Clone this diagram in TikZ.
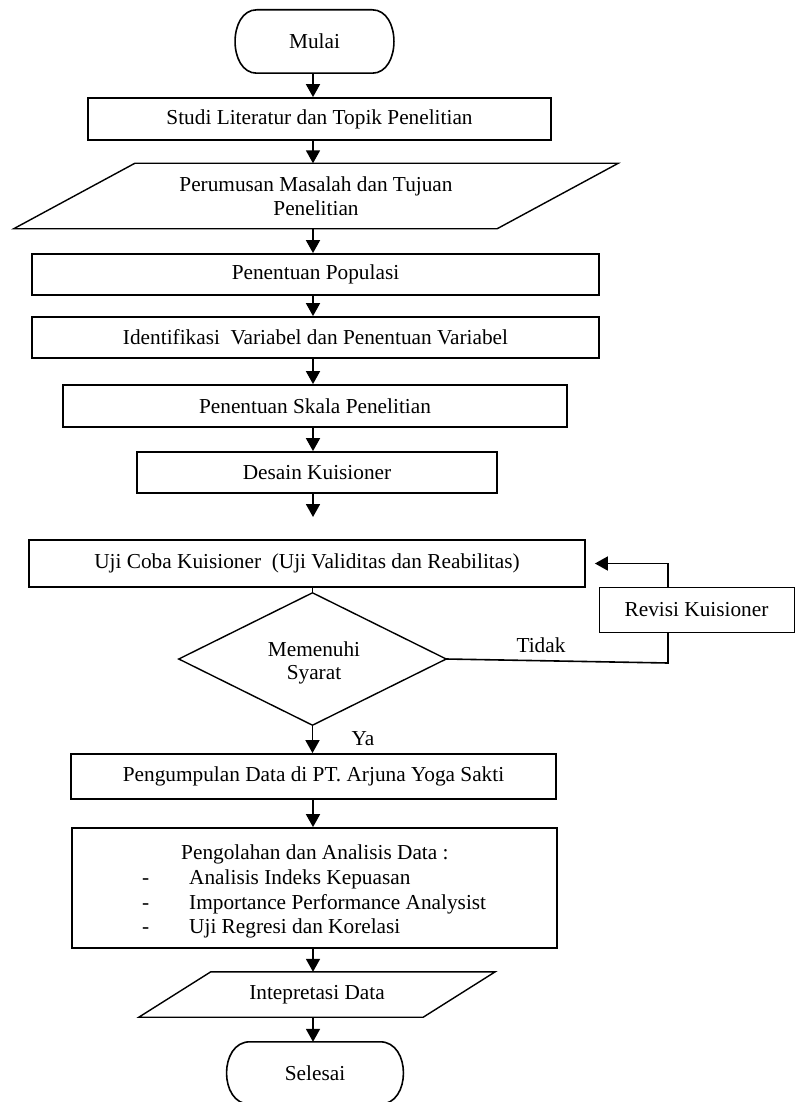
\documentclass[tikz,border=0pt]{standalone}
\usepackage{fontspec}
\setmainfont{Liberation Serif}
\usetikzlibrary{arrows.meta,calc}
\begin{document}
\begin{tikzpicture}[x=1pt,y=-1pt,
  every node/.style={font=\fontsize{21.3}{23.5}\selectfont, inner sep=0pt},
  box/.style={draw, line width=1.8pt, rectangle},
  ghost/.style={rectangle, draw=none, align=center},
  shapeline/.style={line width=1.4pt},
  termline/.style={line width=1.6pt},
  arr/.style={line width=1.8pt, -{Triangle[width=14pt,length=13pt]}},
  plain/.style={line width=1.6pt}
]
\useasboundingbox (0,0) rectangle (795,1102);
\coordinate (ax) at (313,0);

% nodes
\node[ghost, minimum width=159pt, minimum height=63pt] (mulai) at (314.5,41.5) {\raisebox{-3pt}{Mulai}};
\draw[termline] ($(mulai.north west)+(22,0)$) -- ($(mulai.north east)+(-22,0)$)
  .. controls ($(mulai.north east)+(7,0)$) and ($(mulai.south east)+(7,0)$) .. ($(mulai.south east)+(-22,0)$)
  -- ($(mulai.south west)+(22,0)$)
  .. controls ($(mulai.south west)+(-7,0)$) and ($(mulai.north west)+(-7,0)$) .. cycle;
\node[box, minimum width=463pt, minimum height=42pt] (studi) at (319.5,119) {Studi Literatur dan Topik Penelitian};
\node[ghost, minimum width=483pt, minimum height=65pt] (rum) at (316,196) {Perumusan Masalah dan Tujuan\\Penelitian};
\draw[shapeline] ($(rum.north west)+(60.5,0)$) -- ($(rum.north east)+(60.5,0)$) -- ($(rum.south east)+(-60.5,0)$) -- ($(rum.south west)+(-60.5,0)$) -- cycle;
\node[box, minimum width=567pt, minimum height=41pt] (pop) at (315.5,274.5) {\raisebox{-2pt}{Penentuan Populasi}};
\node[box, minimum width=567pt, minimum height=41pt] (idn) at (315.5,337.5) {Identifikasi\ \ Variabel dan Penentuan Variabel};
\node[box, minimum width=504pt, minimum height=42pt] (skl) at (315,406) {Penentuan Skala Penelitian};
\node[box, minimum width=360pt, minimum height=41pt] (des) at (317,472.5) {Desain Kuisioner};
\node[box, minimum width=556pt, minimum height=47pt] (uji) at (307,563.5) {Uji Coba Kuisioner\ \ (Uji Validitas dan Reabilitas)};
\node[ghost, minimum width=267pt, minimum height=132pt] (dia) at (312.5,659) {};
\draw[shapeline] (dia.north) -- (dia.east) -- (dia.south) -- (dia.west) -- cycle;
\node[align=center] (diatext) at (314,663) {Memenuhi\\Syarat};
\node[draw, line width=0.8pt, minimum width=195pt, minimum height=45pt] (rev) at (696.5,609.5) {Revisi Kuisioner};
\node[box, minimum width=485pt, minimum height=45pt] (kum) at (313.5,776.5) {Pengumpulan Data di PT. Arjuna Yoga Sakti};
\node[box, minimum width=485pt, minimum height=120pt] (olah) at (314.5,888) {};
\node[anchor=base west] (o0) at (181,859) {Pengolahan dan Analisis Data :};
\node[anchor=base west] (d1) at (142,884) {-};
\node[anchor=base west] (o1) at (189,884) {Analisis Indeks Kepuasan};
\node[anchor=base west] (d2) at (142,909) {-};
\node[anchor=base west] (o2) at (189,909) {Importance Performance Analysist};
\node[anchor=base west] (d3) at (142,933) {-};
\node[anchor=base west] (o3) at (189,933) {Uji Regresi dan Korelasi};
\node[ghost, minimum width=284pt, minimum height=45pt] (intp) at (317,994.5) {Intepretasi Data};
\draw[shapeline] ($(intp.north west)+(36,0)$) -- ($(intp.north east)+(36,0)$) -- ($(intp.south east)+(-36,0)$) -- ($(intp.south west)+(-36,0)$) -- cycle;
\node[ghost, minimum width=178pt, minimum height=62pt] (sel) at (315,1073) {Selesai};
\draw[termline] ($(sel.north west)+(24,0)$) -- ($(sel.north east)+(-24,0)$)
  .. controls ($(sel.north east)+(7,0)$) and ($(sel.south east)+(7,0)$) .. ($(sel.south east)+(-24,0)$)
  -- ($(sel.south west)+(24,0)$)
  .. controls ($(sel.south west)+(-7,0)$) and ($(sel.north west)+(-7,0)$) .. cycle;

% connectors
\draw[arr] (mulai.south -| ax) -- (studi.north -| ax);
\draw[arr] (studi.south -| ax) -- (rum.north -| ax);
\draw[arr] (rum.south -| ax) -- (pop.north -| ax);
\draw[arr] (pop.south -| ax) -- (idn.north -| ax);
\draw[arr] (idn.south -| ax) -- (skl.north -| ax);
\draw[arr] (skl.south -| ax) -- (des.north -| ax);
\coordinate (dend) at (313,517);
\draw[arr] (des.south -| ax) -- (dend);
\draw[plain] (uji.south -| dia.north) -- (dia.north);
\draw[arr] (dia.south) -- (kum.north -| dia.south);
\node (ya) at (363,739) {Ya};
\coordinate (lx) at (668,663);
\draw[plain] (dia.east) -- (lx) -- (lx |- rev.south);
\draw[arr] (lx |- rev.north) -- (lx |- uji.east) -- ([xshift=9pt]uji.east);
\node (tidak) at (541,645) {Tidak};
\draw[arr] (kum.south -| ax) -- (olah.north -| ax);
\draw[arr] (olah.south -| ax) -- (intp.north -| ax);
\draw[arr] (intp.south -| ax) -- (sel.north -| ax);
\end{tikzpicture}
\end{document}
